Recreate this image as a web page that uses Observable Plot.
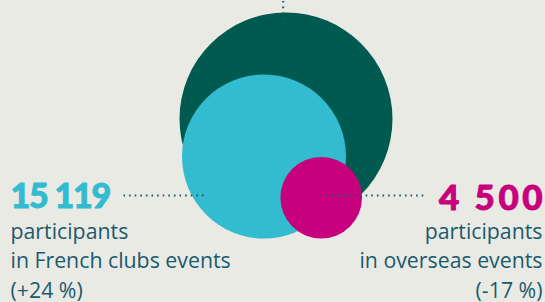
<!DOCTYPE html>
<html>
<head>
<meta charset="utf-8">
<script src="https://cdn.jsdelivr.net/npm/d3@7"></script>
<script src="https://cdn.jsdelivr.net/npm/@observablehq/plot@0.6"></script>
<style>
  html, body { margin: 0; padding: 0; background: #eaeae5; }
  #chart svg { display: block; }
</style>
</head>
<body>
<div id="chart"></div>
<script>
// ---- data ----
const groups = ["All events", "French clubs events", "Overseas events"];
const participants = [23800, 15119, 4500];
const changes = [null, 24, -17];
const labelLines = [null, ["participants", "in French clubs events"], ["participants", "in overseas events"]];
const colors = ["#005a4f", "#33bbcf", "#c7007d"];

const W = 545, H = 302;
const textColor = "#1b5a6d";

// radius scale (shared with Plot's r scale)
const rDomain = [0, 15119], rRange = [0, 82], rExp = 0.576;
const rs = d3.scalePow().exponent(rExp).domain(rDomain).range(rRange);

// layout of the circles (in pixel-like scale units)
const rA = rs(participants[0]), rB = rs(participants[1]), rC = rs(participants[2]);
const baseline = 238;
const centers = [
  {x: 285.5, y: 12 + rA},
  {x: 285.5 - rA + 2.5 + rB, y: baseline - rB},
  {x: 320.7, y: baseline - rC}
];
const circles = groups.map((g, i) => ({group: g, value: participants[i], color: colors[i], ...centers[i]}));

const fmt = d3.formatLocale({thousands: " ", grouping: [3], decimal: ".", currency: ["", ""]}).format(",d");
const pct = v => `(${v > 0 ? "+" : "-"}${Math.abs(v)} %)`;

const mkLabel = (i, x, yNum, yText) => ({x, yNum, yText, num: fmt(participants[i]), color: colors[i],
  body: [...labelLines[i], pct(changes[i])].join("\n")});
const leftLabel = [mkLabel(1, 10, 207, 297)];
const rightLabel = [mkLabel(2, 542, 209.5, 297)];

const leaders = [
  {x1: 123, x2: 205, y1: 195, y2: 195},
  {x1: 326, x2: 426, y1: 195, y2: 195},
  {x1: 282.7, x2: 282.7, y1: 0.5, y2: 24}
];

const numBase = {fontWeight: 900, fontFamily: "Lato, 'Open Sans', sans-serif", lineAnchor: "bottom", strokeWidth: 0.9};
const bodyStyle = {fill: textColor, lineAnchor: "bottom", lineHeight: 1.38, fontSize: 21.3, fontFamily: "'Open Sans', sans-serif"};

const chart = Plot.plot({
  width: W, height: H,
  margin: 0,
  style: {background: "#eaeae5", overflow: "visible"},
  x: {domain: [0, W], range: [0, W], axis: null},
  y: {domain: [0, H], range: [0, H], axis: null},
  r: {type: "pow", exponent: rExp, domain: rDomain, range: rRange, clamp: false},
  marks: [
    Plot.dot(circles, {x: "x", y: "y", r: "value", fill: "color", stroke: null}),
    Plot.link(leaders, {x1: "x1", x2: "x2", y1: "y1", y2: "y2", stroke: textColor,
      strokeWidth: 2, strokeDasharray: "1.6 4", strokeLinecap: "butt"}),
    Plot.text(leftLabel, {x: "x", y: "yNum", text: "num", fill: "color", stroke: "color", textAnchor: "start",
      fontSize: 34, ...numBase}),
    Plot.text(rightLabel, {x: "x", y: "yNum", text: "num", fill: "color", stroke: "color", textAnchor: "end",
      fontSize: 35, dx: 3.5, ...numBase}),
    Plot.text(leftLabel, {x: "x", y: "yText", text: "body", textAnchor: "start", ...bodyStyle}),
    Plot.text(rightLabel, {x: "x", y: "yText", text: "body", textAnchor: "end", ...bodyStyle})
  ]
});
// letter spacing of the big numbers (not a Plot text option)
const spacing = new Map([[fmt(participants[1]), "-1.2px"], [fmt(participants[2]), "3.5px"]]);
d3.select(chart).selectAll("text").each(function() {
  const s = spacing.get(this.textContent);
  if (s) this.style.letterSpacing = s;
});
document.getElementById("chart").appendChild(chart);
</script>
</body>
</html>
